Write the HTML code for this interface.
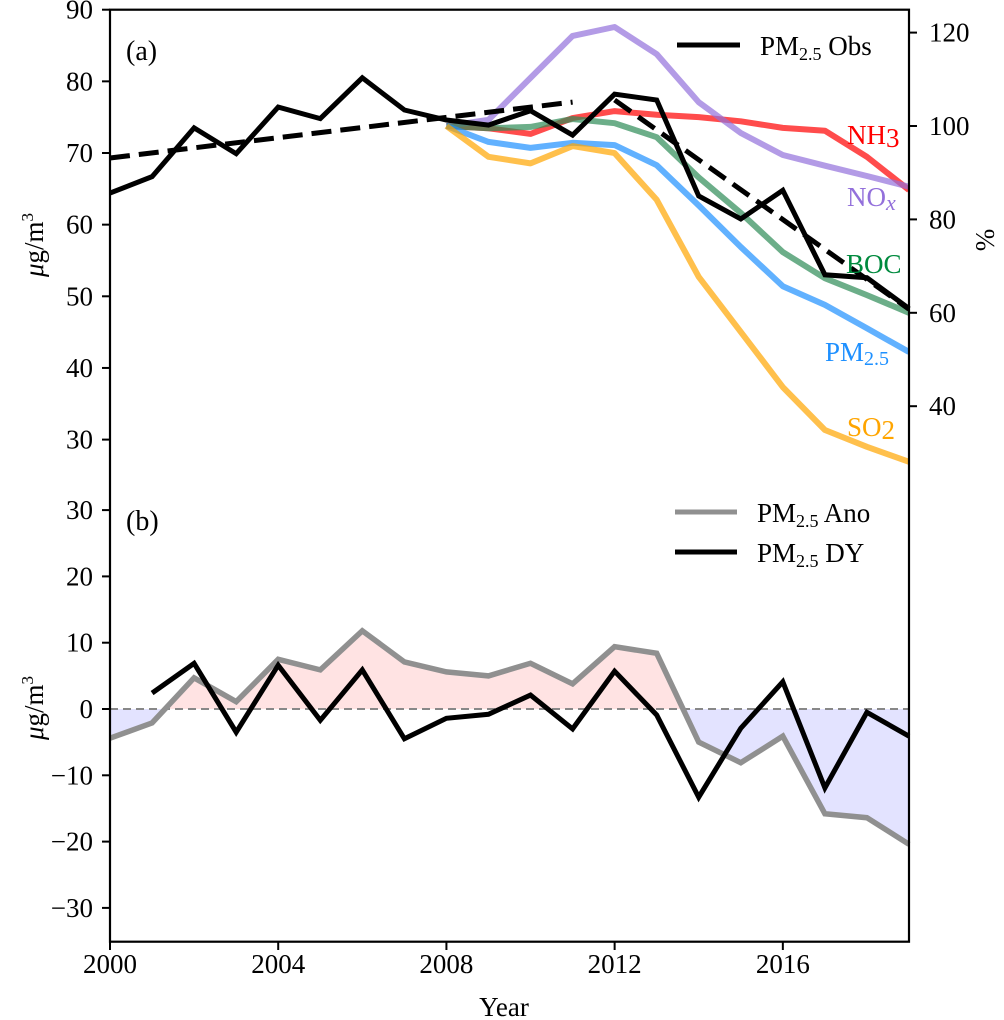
<!DOCTYPE html>
<html><head><meta charset="utf-8"><style>
body{margin:0;background:#fff}
svg{display:block;font-family:"Liberation Serif",serif}
</style></head><body>
<svg id="c" width="1004" height="1020" viewBox="0 0 1004 1020" xmlns="http://www.w3.org/2000/svg"></svg>
<script>
const years=[2000,2001,2002,2003,2004,2005,2006,2007,2008,2009,2010,2011,2012,2013,2014,2015,2016,2017,2018,2019];
const obs=[64.4,66.7,73.5,69.9,76.4,74.8,80.5,76,74.6,73.9,75.9,72.5,78.2,77.4,64,60.8,64.8,53,52.6,48.3];
const trend1=[[2000,69.3],[2011,77.1]];
const trend2=[[2012,77.4],[2019,48.2]];
const emisYears=[2008,2009,2010,2011,2012,2013,2014,2015,2016,2017,2018,2019];
const nh3=[100,99.5,98.3,101.7,103.2,102.4,101.9,101,99.6,99,93.4,86.3];
const nox=[100,101.3,110.3,119.3,121.2,115.4,105.1,98.5,93.8,91.5,89.3,87];
const boc=[100,99.5,99.8,101.5,100.6,97.6,89,81.4,73,67.4,63.8,60];
const pm=[100,96.6,95.3,96.4,95.9,91.6,83,74.1,65.7,61.7,56.7,51.6];
const so2=[100,93.4,92,95.7,94.2,84.2,67.7,55.9,44.1,34.9,31.3,28.1];
const ano=[-4.4,-2.1,4.7,1.1,7.5,5.9,11.8,7.1,5.6,5,6.9,3.8,9.4,8.4,-5,-8.1,-4.1,-15.8,-16.4,-20.4];
const dyYears=years.slice(1);
const dy=[2.4,6.9,-3.5,6.6,-1.7,5.9,-4.5,-1.4,-0.8,2.1,-3,5.7,-0.9,-13.3,-2.9,4.1,-11.9,-0.5,-4.1];
const leftTicksA=[30,40,50,60,70,80,90];
const rightTicks=[40,60,80,100,120];
const leftTicksB=[-30,-20,-10,0,10,20,30];
const xTicks=[2000,2004,2008,2012,2016];

const svg=document.getElementById('c');
const NS='http://www.w3.org/2000/svg';
const X0=110,X1=909;
const x=v=>X0+(v-2000)/19*(X1-X0);
const yA=v=>9.7+(90-v)*7.165;
const yR=p=>126+(100-p)*4.67;
const yB=v=>709-v*6.63;
function el(t,a,p){const e=document.createElementNS(NS,t);for(const k in a)e.setAttribute(k,a[k]);(p||svg).appendChild(e);return e;}
function pts(xs,ys,fy){return xs.map((v,i)=>x(v).toFixed(1)+','+fy(ys[i]).toFixed(1)).join(' ');}

const defs=el('defs',{});
const cpA=el('clipPath',{id:'cpa'},defs);el('rect',{x:X0,y:9.7,width:X1-X0,height:466},cpA);
const cpPos=el('clipPath',{id:'cpp'},defs);el('rect',{x:X0,y:476,width:X1-X0,height:233},cpPos);
const cpNeg=el('clipPath',{id:'cpn'},defs);el('rect',{x:X0,y:709,width:X1-X0,height:233},cpNeg);

const fillPts=pts(years,ano,yB)+' '+x(2019)+','+yB(0)+' '+x(2000)+','+yB(0);
let f=el('polygon',{points:fillPts,fill:'rgba(255,0,0,0.11)','clip-path':'url(#cpp)'});

f=el('polygon',{points:fillPts,fill:'rgba(0,0,255,0.11)','clip-path':'url(#cpn)'});

let z=el('line',{x1:X0,x2:X1,y1:yB(0),y2:yB(0),stroke:'#888','stroke-width':2,'stroke-dasharray':'8,5'});


const ems=[['nh3-line',nh3,'rgba(255,0,0,0.7)'],['nox-line',nox,'rgba(147,112,219,0.7)'],['boc-line',boc,'rgba(46,139,87,0.7)'],['pm25-emission-line',pm,'rgba(30,144,255,0.7)'],['so2-line',so2,'rgba(255,165,0,0.7)']];
ems.forEach(([n,d,c])=>{const l=el('polyline',{points:pts(emisYears,d,yR),fill:'none',stroke:c,'stroke-width':6,'stroke-linejoin':'round','clip-path':'url(#cpa)'});
});
let t1=el('polyline',{points:pts(trend1.map(p=>p[0]),trend1.map(p=>p[1]),yA),fill:'none',stroke:'#000','stroke-width':5,'stroke-dasharray':'20,9'});

let t2=el('polyline',{points:pts(trend2.map(p=>p[0]),trend2.map(p=>p[1]),yA),fill:'none',stroke:'#000','stroke-width':5,'stroke-dasharray':'20,9'});

let o=el('polyline',{points:pts(years,obs,yA),fill:'none',stroke:'#000','stroke-width':5});


let a=el('polyline',{points:pts(years,ano,yB),fill:'none',stroke:'#909090','stroke-width':5.5});

let d=el('polyline',{points:pts(dyYears,dy,yB),fill:'none',stroke:'#000','stroke-width':5});


let fr=el('rect',{x:X0,y:9.7,width:X1-X0,height:932,fill:'none',stroke:'#000','stroke-width':2.2});


function txt(s,xx,yy,opt){const t=el('text',Object.assign({x:xx,y:yy,'font-size':27,fill:'#000'},opt||{}));t.innerHTML=s;return t;}
leftTicksA.forEach(v=>{el('line',{x1:X0-8,x2:X0,y1:yA(v),y2:yA(v),stroke:'#000','stroke-width':2});
const t=txt(v,93,yA(v)+9,{'text-anchor':'end'});});
rightTicks.forEach(v=>{el('line',{x1:X1,x2:X1+8,y1:yR(v),y2:yR(v),stroke:'#000','stroke-width':2});
const t=txt(v,929,yR(v)+9);});
leftTicksB.forEach(v=>{el('line',{x1:X0-8,x2:X0,y1:yB(v),y2:yB(v),stroke:'#000','stroke-width':2});
const t=txt(v<0?'\u2212'+(-v):v,93,yB(v)+9,{'text-anchor':'end'});});
xTicks.forEach(v=>{el('line',{x1:x(v),x2:x(v),y1:942,y2:950,stroke:'#000','stroke-width':2});
const t=txt(v,x(v),973,{'text-anchor':'middle'});});
</script>
<svg width="1004" height="1020" style="position:absolute;left:0;top:0" font-family="Liberation Serif,serif">
<text x="504" y="1016" font-size="27" text-anchor="middle">Year</text>
<text transform="translate(43,245) rotate(-90)" font-size="27" text-anchor="middle"><tspan font-style="italic">μ</tspan>g/m<tspan font-size="17" dy="-10">3</tspan></text>
<text transform="translate(43,708) rotate(-90)" font-size="27" text-anchor="middle"><tspan font-style="italic">μ</tspan>g/m<tspan font-size="17" dy="-10">3</tspan></text>
<text transform="translate(994,240) rotate(-90)" font-size="27" text-anchor="middle">%</text>
<text x="126" y="60" font-size="28">(a)</text>
<text x="126" y="530" font-size="28">(b)</text>
<line x1="677" x2="740" y1="45" y2="45" stroke="#000" stroke-width="5"/>
<text x="760" y="55" font-size="27">PM<tspan font-size="18" dy="5">2.5</tspan><tspan dy="-5"> Obs</tspan></text>
<line x1="675" x2="737" y1="512" y2="512" stroke="#909090" stroke-width="5"/>
<text x="757" y="522" font-size="27">PM<tspan font-size="18" dy="5">2.5</tspan><tspan dy="-5"> Ano</tspan></text>
<line x1="675" x2="737" y1="552" y2="552" stroke="#000" stroke-width="5"/>
<text x="757" y="562" font-size="27">PM<tspan font-size="18" dy="5">2.5</tspan><tspan dy="-5"> DY</tspan></text>
<text x="847" y="144" font-size="27" fill="#ff0000">NH<tspan dy="3">3</tspan></text>
<text x="847" y="206" font-size="27" fill="#9370db">NO<tspan font-style="italic" font-size="22" dy="4">x</tspan></text>
<text x="846" y="273" font-size="27" fill="#008a3e">BOC</text>
<text x="825" y="361" font-size="27" fill="#1e90ff">PM<tspan font-size="20" dy="4">2.5</tspan></text>
<text x="847" y="436" font-size="27" fill="#ffa500">SO<tspan dy="3">2</tspan></text>
</svg>
</body></html>
